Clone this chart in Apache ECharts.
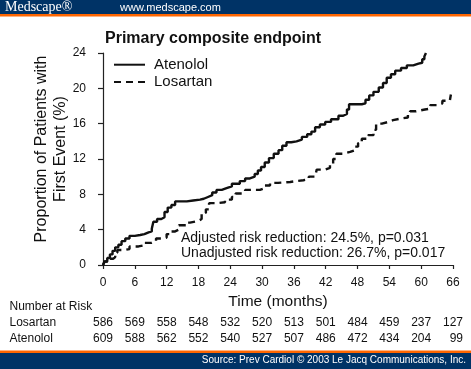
<!DOCTYPE html>
<html>
<head>
<meta charset="utf-8">
<script src="https://cdn.jsdelivr.net/npm/echarts@6/dist/echarts.min.js"></script>
<style>
html,body{margin:0;padding:0;background:#fff;}
#c{width:471px;height:369px;}
</style>
</head>
<body>
<div id="c"></div>
<script>
// ---- data ----
var title = 'Primary composite endpoint';
var seriesNames = ['Atenolol', 'Losartan'];
var atenololCurve = [[0,0],[0.3,0.4],[0.8,0.8],[1.3,1.2],[1.8,1.6],[2.3,2.0],[2.9,2.3],[3.5,2.7],[4.2,3.0],[5.0,3.3],[6.0,3.4],[7.0,3.5],[7.8,3.7],[8.6,3.8],[9.2,4.1],[9.5,4.9],[10.2,5.2],[11.0,5.4],[11.6,6.0],[12.2,6.5],[12.9,6.8],[13.6,7.2],[15.8,7.3],[17.0,7.4],[18.3,7.5],[19.0,7.7],[19.8,7.9],[20.6,8.2],[21.4,8.5],[22.4,8.7],[23.3,8.9],[24.3,9.2],[25.8,9.5],[26.8,9.8],[27.7,10.0],[28.6,10.3],[29.2,10.7],[29.8,11.1],[30.5,11.6],[31.3,12.1],[32.2,12.6],[33.1,13.0],[33.8,13.5],[34.6,13.9],[35.5,14.0],[36.5,14.2],[37.5,14.5],[38.5,14.8],[39.3,15.1],[40.0,15.6],[40.9,15.9],[41.9,16.2],[43.0,16.5],[44.4,16.9],[45.3,17.1],[46.0,17.6],[46.4,18.2],[48.8,18.3],[49.5,18.7],[50.2,19.2],[51.0,19.6],[52.0,20.1],[52.8,20.6],[53.5,21.2],[54.3,21.6],[55.1,22.0],[56.2,22.3],[57.3,22.6],[58.5,22.8],[59.5,22.9],[60.2,23.3],[60.6,23.6],[60.9,24.0]];
var losartanCurve = [[0,0],[0.3,0.4],[1.0,0.7],[1.9,0.9],[2.3,1.4],[2.7,1.7],[4.1,1.8],[5.0,2.1],[6.7,2.2],[7.5,2.5],[9.2,2.7],[10.0,3.0],[11.4,3.1],[12.0,3.5],[12.6,3.8],[13.6,4.0],[14.3,4.5],[15.8,4.8],[16.4,5.0],[18.0,5.2],[18.6,5.9],[19.4,6.3],[20.0,7.0],[21.4,7.1],[23.0,7.4],[24.3,7.7],[25.0,8.1],[26.2,8.2],[26.8,8.5],[29.6,8.7],[30.5,9.0],[31.5,9.3],[33.0,9.4],[35.3,9.5],[36.5,9.6],[37.8,9.7],[38.8,10.0],[40.0,10.2],[40.3,10.8],[41.9,11.0],[42.8,11.3],[43.4,12.0],[44.0,12.6],[45.3,12.8],[46.6,13.0],[47.5,13.4],[48.1,13.8],[48.8,14.3],[50.0,14.7],[51.0,15.3],[51.5,16.0],[52.6,16.2],[53.8,16.4],[54.7,16.6],[56.3,16.7],[57.5,17.0],[57.9,17.4],[59.0,17.6],[60.7,17.7],[61.7,18.1],[63.2,18.3],[64.0,18.6],[65.4,18.7],[65.6,19.3]];
var riskMonths = [0,6,12,18,24,30,36,42,48,54,60,66];
var losartanAtRisk = [586,569,558,548,532,520,513,501,484,459,237,127];
var atenololAtRisk = [609,588,562,552,540,527,507,486,472,434,204,99];
var annotations = ['Adjusted risk reduction: 24.5%, p=0.031', 'Unadjusted risk reduction: 26.7%, p=0.017'];
var yAxisTitle = ['Proportion of Patients with', 'First Event (%)'];
var xAxisTitle = 'Time (months)';

// ---- chart ----
var FONT = '"Liberation Sans", Arial, sans-serif';
var NAVY = '#003366', ORANGE = '#FF6600', INK = '#111';
var chart = echarts.init(document.getElementById('c'), null, {renderer: 'canvas'});

var option = {
  animation: false,
  backgroundColor: '#fff',
  grid: {left: 103, right: 18, top: 53, bottom: 104, containLabel: false},
  title: {
    text: title, left: 100, top: 26,
    textStyle: {fontFamily: FONT, fontSize: 16, fontWeight: 'bold', color: INK}
  },
  legend: {
    orient: 'vertical', left: 108, top: 51, itemWidth: 31, itemHeight: 12, itemGap: 0,
    data: seriesNames,
    itemStyle: {opacity: 0},
    textStyle: {fontFamily: FONT, fontSize: 15, color: INK, padding: [0,0,0,4], lineHeight: 17.4}
  },
  xAxis: {
    type: 'value', min: 0, max: 66, interval: 6, offset: 4,
    name: xAxisTitle, nameLocation: 'middle', nameGap: 23,
    nameTextStyle: {fontFamily: FONT, fontSize: 15.5, color: INK, verticalAlign: 'top'},
    axisLine: {show: true, lineStyle: {color: '#222', width: 1.2}},
    axisTick: {show: true, length: 4, inside: false, lineStyle: {color: '#222', width: 1.2}},
    axisLabel: {fontFamily: FONT, fontSize: 12, color: INK, margin: 8},
    splitLine: {show: false}
  },
  yAxis: {
    type: 'value', min: 0, max: 24, interval: 4, offset: 6,
    axisLine: {show: true, lineStyle: {color: '#222', width: 1.2}},
    axisTick: {show: true, length: 5, inside: false, lineStyle: {color: '#222', width: 1.2}},
    axisLabel: {fontFamily: FONT, fontSize: 12, color: INK, margin: 11},
    splitLine: {show: false}
  },
  series: [
    {name: seriesNames[0], type: 'line', step: 'end', showSymbol: false, symbol: 'none',
     data: atenololCurve, lineStyle: {color: INK, width: 2.4, type: 'solid'}, itemStyle: {color: INK}},
    {name: seriesNames[1], type: 'line', step: 'end', showSymbol: false, symbol: 'none',
     data: losartanCurve, lineStyle: {color: INK, width: 2.4, type: [7,5]}, itemStyle: {color: INK}}
  ]
};
chart.setOption(option);

// ---- decorations & tables ----
var g = [];
// header
g.push({type: 'rect', shape: {x: 0, y: 0, width: 471, height: 14}, style: {fill: NAVY}, silent: true});
g.push({type: 'rect', shape: {x: 0, y: 14, width: 471, height: 2.5}, style: {fill: ORANGE}, silent: true});
g.push({type: 'text', x: 5, y: 7.5, style: {text: 'Medscape®', fill: '#fff', font: '14px "Liberation Serif", "Times New Roman", serif', textVerticalAlign: 'middle'}});
g.push({type: 'text', x: 120, y: 7.5, style: {text: 'www.medscape.com', fill: '#fff', font: '11px ' + FONT, textVerticalAlign: 'middle'}});
// footer
g.push({type: 'rect', shape: {x: 0, y: 350.5, width: 471, height: 2.5}, style: {fill: ORANGE}, silent: true});
g.push({type: 'rect', shape: {x: 0, y: 353, width: 471, height: 16}, style: {fill: NAVY}, silent: true});
g.push({type: 'text', x: 466, y: 360.5, style: {text: 'Source: Prev Cardiol © 2003 Le Jacq Communications, Inc.', fill: '#fff', font: '10px ' + FONT, textAlign: 'right', textVerticalAlign: 'middle'}});
// y-axis title
g.push({type: 'text', x: 51.5, y: 149, rotation: Math.PI / 2,
  style: {text: yAxisTitle.join('\n'), fill: INK, font: '16px ' + FONT, textAlign: 'center', textVerticalAlign: 'middle', lineHeight: 19}});
// annotations
annotations.forEach(function (t, i) {
  g.push({type: 'text', x: 181, y: 237.7 + i * 15.6, style: {text: t, fill: INK, font: '14px ' + FONT, textVerticalAlign: 'middle'}});
});
// number at risk
g.push({type: 'text', x: 9.5, y: 306.7, style: {text: 'Number at Risk', fill: INK, font: '12px ' + FONT, textVerticalAlign: 'middle'}});
var rows = [['Losartan', losartanAtRisk, 322.7], ['Atenolol', atenololAtRisk, 338.3]];
rows.forEach(function (r) {
  g.push({type: 'text', x: 9.5, y: r[2], style: {text: r[0], fill: INK, font: '12px ' + FONT, textVerticalAlign: 'middle'}});
  r[1].forEach(function (v, i) {
    var px = chart.convertToPixel({xAxisIndex: 0}, riskMonths[i]);
    var last = i === riskMonths.length - 1;
    g.push({type: 'text', x: last ? px + 10 : px, y: r[2],
      style: {text: String(v), fill: INK, font: '12px ' + FONT, textAlign: last ? 'right' : 'center', textVerticalAlign: 'middle'}});
  });
});
chart.setOption({graphic: g});
</script>
</body>
</html>
